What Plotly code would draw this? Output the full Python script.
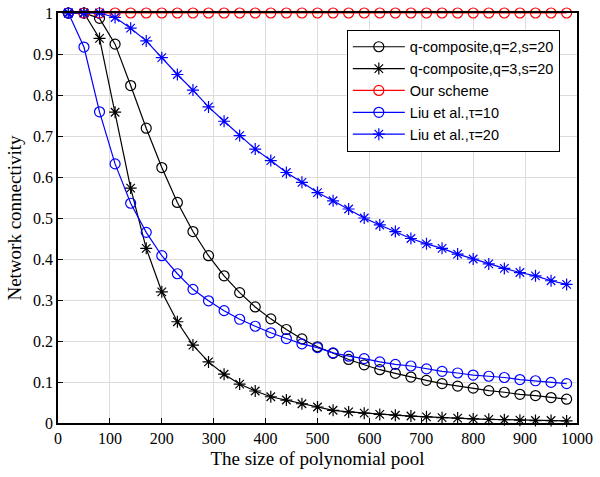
import plotly.graph_objects as go

x_vals = list(range(20, 1000, 30))

q2_s20 = [1.0, 1.0, 0.987, 0.924, 0.823, 0.719, 0.623, 0.538, 0.467, 0.408, 0.359, 0.318,
          0.283, 0.254, 0.228, 0.205, 0.186, 0.170, 0.155, 0.142, 0.130, 0.121, 0.112,
          0.104, 0.096, 0.090, 0.085, 0.079, 0.075, 0.070, 0.067, 0.062, 0.058]
q3_s20 = [1.0, 1.0, 0.938, 0.758, 0.573, 0.426, 0.320, 0.247, 0.190, 0.149, 0.119, 0.095,
          0.078, 0.064, 0.056, 0.047, 0.039, 0.031, 0.027, 0.024, 0.021, 0.019, 0.017,
          0.015, 0.013, 0.012, 0.010, 0.009, 0.008, 0.007, 0.006, 0.006, 0.005]
our_scheme = [1.0] * 33
liu_t10 = [1.0, 0.917, 0.759, 0.632, 0.536, 0.465, 0.408, 0.364, 0.326, 0.298, 0.274, 0.253,
           0.236, 0.220, 0.206, 0.193, 0.184, 0.171, 0.163, 0.157, 0.149, 0.143, 0.139,
           0.132, 0.126, 0.122, 0.117, 0.114, 0.111, 0.106, 0.103, 0.099, 0.096]
liu_t20 = [1.0, 1.0, 1.0, 0.989, 0.963, 0.932, 0.891, 0.850, 0.812, 0.771, 0.736, 0.701,
           0.668, 0.640, 0.611, 0.587, 0.562, 0.542, 0.522, 0.500, 0.483, 0.467, 0.450,
           0.437, 0.426, 0.412, 0.400, 0.388, 0.377, 0.367, 0.359, 0.347, 0.338]

series = [
    ("q-composite,q=2,s=20", q2_s20, "black", "circle-open"),
    ("q-composite,q=3,s=20", q3_s20, "black", "asterisk-open"),
    ("Our scheme", our_scheme, "red", "circle-open"),
    ("Liu et al.,τ=10", liu_t10, "blue", "circle-open"),
    ("Liu et al.,τ=20", liu_t20, "blue", "asterisk-open"),
]

fig = go.Figure()
for name, ys, col, sym in series:
    fig.add_trace(go.Scatter(
        x=x_vals, y=ys, name=name, mode="lines+markers",
        line=dict(color=col, width=1.2),
        marker=dict(symbol=sym, size=10, color=col, line=dict(color=col, width=1.2)),
        cliponaxis=False,
    ))

serif = "Liberation Serif"
fig.update_layout(
    width=600, height=477,
    margin=dict(l=58, r=23, t=13, b=54, autoexpand=False),
    paper_bgcolor="white", plot_bgcolor="white",
    showlegend=True,
    legend=dict(
        x=0.5565, y=0.959, xanchor="left", yanchor="top",
        bgcolor="white", bordercolor="black", borderwidth=1,
        font=dict(family="Arial, Liberation Sans", size=14.5, color="black"),
        tracegroupgap=0, itemwidth=52,
    ),
)
fig.update_xaxes(
    range=[0, 1000], tickvals=list(range(0, 1001, 100)),
    showgrid=True, gridcolor="#dcdcdc", gridwidth=1,
    showline=True, linecolor="black", linewidth=1.5, mirror=True,
    ticks="inside", ticklen=5, tickcolor="black",
    tickfont=dict(family=serif, size=16, color="black"),
    title=dict(text="The size of polynomial pool", font=dict(family=serif, size=19, color="black"), standoff=6),
    zeroline=False, automargin=False, ticklabeloverflow="allow",
)
fig.update_yaxes(
    range=[0, 1], tickvals=[i / 10 for i in range(11)],
    ticktext=["0", "0.1", "0.2", "0.3", "0.4", "0.5", "0.6", "0.7", "0.8", "0.9", "1"],
    showgrid=True, gridcolor="#dcdcdc", gridwidth=1,
    showline=True, linecolor="black", linewidth=1.5, mirror=True,
    ticks="inside", ticklen=5, tickcolor="black",
    tickfont=dict(family=serif, size=16, color="black"),
    title=dict(text="Network connectivity", font=dict(family=serif, size=19, color="black"), standoff=6),
    zeroline=False, automargin=False, ticklabeloverflow="allow",
)

fig.write_html(
    "out.html",
    config={"displayModeBar": False},
    post_script="document.body.style.margin='0';document.body.style.overflow='hidden';",
)
